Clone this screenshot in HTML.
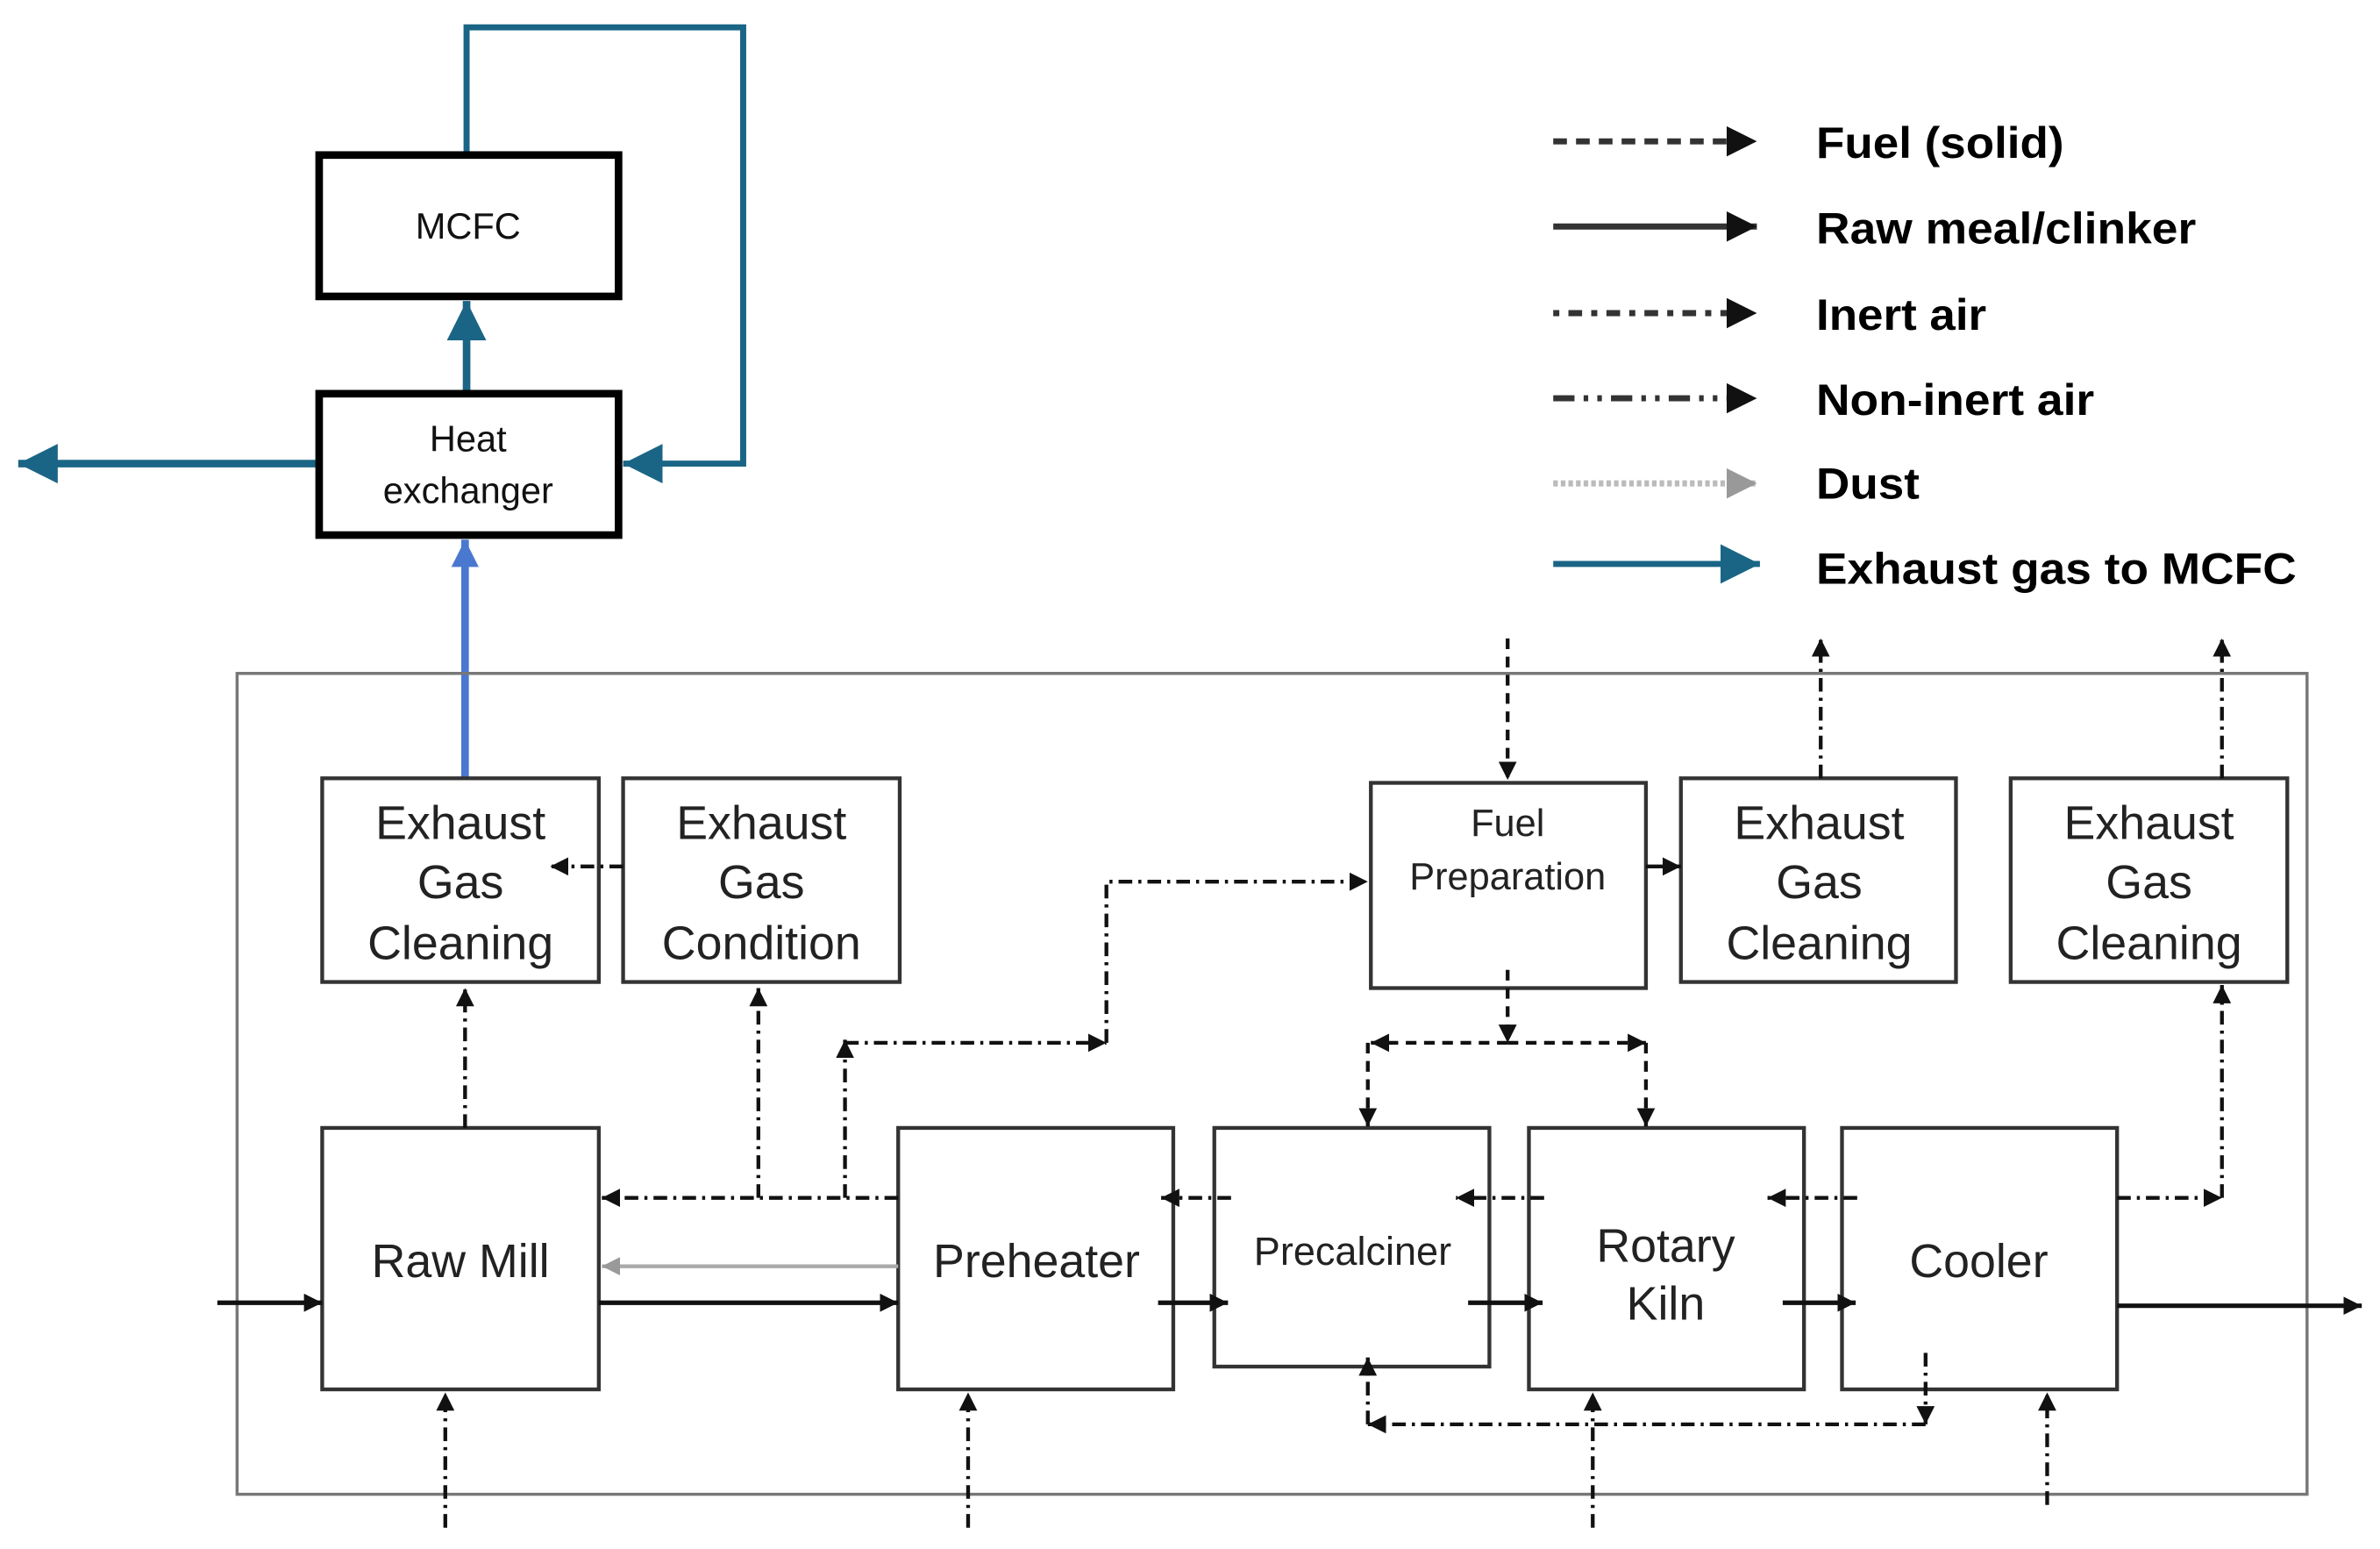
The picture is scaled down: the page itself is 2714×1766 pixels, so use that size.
<!DOCTYPE html>
<html><head><meta charset="utf-8"><style>
html,body{margin:0;padding:0;background:#fff}
svg{display:block}
text{font-family:"Liberation Sans Narrow","Liberation Sans",Arial,sans-serif}
</style></head><body>
<svg width="2714" height="1766" viewBox="0 0 1566 1019" preserveAspectRatio="none" xmlns="http://www.w3.org/2000/svg">
<defs>
<marker id="a" markerUnits="userSpaceOnUse" markerWidth="16" markerHeight="16" refX="12" refY="6" orient="auto"><path d="M0,0 L12,6 L0,12 z" fill="#111"/></marker>
<marker id="al" markerUnits="userSpaceOnUse" markerWidth="24" markerHeight="24" refX="20" refY="10" orient="auto"><path d="M0,0 L20,10 L0,20 z" fill="#111"/></marker>
<marker id="g" markerUnits="userSpaceOnUse" markerWidth="16" markerHeight="16" refX="12" refY="6" orient="auto"><path d="M0,0 L12,6 L0,12 z" fill="#999"/></marker>
<marker id="gl" markerUnits="userSpaceOnUse" markerWidth="24" markerHeight="24" refX="20" refY="10" orient="auto"><path d="M0,0 L20,10 L0,20 z" fill="#999"/></marker>
<marker id="t" markerUnits="userSpaceOnUse" markerWidth="30" markerHeight="30" refX="26" refY="13" orient="auto"><path d="M0,0 L26,13 L0,26 z" fill="#1a6585"/></marker>
<marker id="b" markerUnits="userSpaceOnUse" markerWidth="24" markerHeight="24" refX="18" refY="9" orient="auto"><path d="M0,0 L18,9 L0,18 z" fill="#4a78d0"/></marker>
</defs>

<g fill="none" stroke="#1a6585" stroke-width="4">
<polyline points="307,102 307,18 489,18 489,305 410,305" marker-end="url(#t)"/>
<line x1="307" y1="259" x2="307" y2="198" marker-end="url(#t)" stroke-width="5"/>
<line x1="210" y1="305" x2="12" y2="305" marker-end="url(#t)" stroke-width="5"/>
</g>
<line x1="306" y1="512" x2="306" y2="355" stroke="#4a78d0" stroke-width="5" marker-end="url(#b)"/>
<rect x="210" y="102" width="197" height="93" fill="none" stroke="#000" stroke-width="5"/>
<rect x="210" y="259" width="197" height="93" fill="none" stroke="#000" stroke-width="5"/>
<g font-size="24" text-anchor="middle" fill="#111">
<text x="308" y="157">MCFC</text>
<text x="308" y="297">Heat</text>
<text x="308" y="331">exchanger</text>
</g>

<g stroke="#333" stroke-width="4" fill="none">
<line x1="1022" y1="93" x2="1156" y2="93" stroke-dasharray="9,6" marker-end="url(#al)"/>
<line x1="1022" y1="149" x2="1156" y2="149" marker-end="url(#al)"/>
<line x1="1022" y1="206" x2="1156" y2="206" stroke-dasharray="4,6,9,6" marker-end="url(#al)"/>
<line x1="1022" y1="262" x2="1156" y2="262" stroke-dasharray="14,6,3,6,3,6" marker-end="url(#al)"/>
<line x1="1022" y1="318" x2="1156" y2="318" stroke="#bbb" stroke-dasharray="3,2" marker-end="url(#gl)"/>
<line x1="1022" y1="371" x2="1158" y2="371" stroke="#1a6585" marker-end="url(#t)"/>
</g>
<g font-size="29" font-weight="bold" fill="#000">
<text x="1195" y="104" textLength="163" lengthAdjust="spacingAndGlyphs">Fuel (solid)</text>
<text x="1195" y="160" textLength="250" lengthAdjust="spacingAndGlyphs">Raw meal/clinker</text>
<text x="1195" y="217" textLength="112" lengthAdjust="spacingAndGlyphs">Inert air</text>
<text x="1195" y="273" textLength="183" lengthAdjust="spacingAndGlyphs">Non-inert air</text>
<text x="1195" y="328" textLength="68" lengthAdjust="spacingAndGlyphs">Dust</text>
<text x="1195" y="384" textLength="316" lengthAdjust="spacingAndGlyphs">Exhaust gas to MCFC</text>
</g>

<rect x="156" y="443" width="1362" height="540" fill="none" stroke="#777" stroke-width="2"/>

<g fill="#fff" stroke="#333" stroke-width="2.5">
<rect x="212" y="512" width="182" height="134"/>
<rect x="410" y="512" width="182" height="134"/>
<rect x="902" y="515" width="181" height="135"/>
<rect x="1106" y="512" width="181" height="134"/>
<rect x="1323" y="512" width="182" height="134"/>
<rect x="212" y="742" width="182" height="172"/>
<rect x="591" y="742" width="181" height="172"/>
<rect x="799" y="742" width="181" height="157"/>
<rect x="1006" y="742" width="181" height="172"/>
<rect x="1212" y="742" width="181" height="172"/>
</g>
<g font-size="31" text-anchor="middle" fill="#222" font-family="Liberation Sans,Arial,sans-serif">
<text x="303" y="552">Exhaust</text><text x="303" y="591">Gas</text><text x="303" y="631">Cleaning</text>
<text x="501" y="552">Exhaust</text><text x="501" y="591">Gas</text><text x="501" y="631">Condition</text>
<text x="1197" y="552">Exhaust</text><text x="1197" y="591">Gas</text><text x="1197" y="631">Cleaning</text>
<text x="1414" y="552">Exhaust</text><text x="1414" y="591">Gas</text><text x="1414" y="631">Cleaning</text>
<text x="303" y="840">Raw Mill</text>
<text x="682" y="840">Preheater</text>
<text x="1096" y="830">Rotary</text><text x="1096" y="868">Kiln</text>
<text x="1302" y="840">Cooler</text>
<text x="992" y="550" font-size="25">Fuel</text>
<text x="992" y="585" font-size="25">Preparation</text>
<text x="890" y="832" font-size="26">Precalciner</text>
</g>

<g stroke="#111" stroke-width="3" fill="none" marker-end="url(#a)">
<line x1="143" y1="857" x2="212" y2="857"/>
<line x1="394" y1="857" x2="591" y2="857"/>
<line x1="762" y1="857" x2="808" y2="857"/>
<line x1="966" y1="857" x2="1015" y2="857"/>
<line x1="1173" y1="857" x2="1221" y2="857"/>
<line x1="1393" y1="859" x2="1554" y2="859"/>
</g>
<line x1="591" y1="833" x2="396" y2="833" stroke="#aaa" stroke-width="2.5" marker-end="url(#g)"/>

<g stroke="#111" stroke-width="2.5" fill="none" stroke-dasharray="9,4,2,4" marker-end="url(#a)">
<line x1="591" y1="788" x2="396" y2="788"/>
<line x1="499" y1="788" x2="499" y2="650"/>
<line x1="556" y1="788" x2="556" y2="684"/>
<polyline points="556,686 728,686"/>
<polyline points="728,686 728,580 900,580"/>
<line x1="306" y1="742" x2="306" y2="650"/>
<line x1="410" y1="570" x2="362" y2="570"/>
<line x1="810" y1="788" x2="764" y2="788"/>
<line x1="1016" y1="788" x2="958" y2="788"/>
<line x1="1222" y1="788" x2="1163" y2="788"/>
<polyline points="1393,788 1462,788"/>
<line x1="1462" y1="788" x2="1462" y2="648"/>
<line x1="1462" y1="512" x2="1462" y2="420"/>
<line x1="1198" y1="512" x2="1198" y2="420"/>
<line x1="900" y1="937" x2="900" y2="893"/>
<line x1="1267" y1="937" x2="900" y2="937"/>
<line x1="1267" y1="890" x2="1267" y2="937"/>
<line x1="293" y1="1005" x2="293" y2="916"/>
<line x1="637" y1="1005" x2="637" y2="916"/>
<line x1="1048" y1="1005" x2="1048" y2="916"/>
<line x1="1347" y1="990" x2="1347" y2="916"/>
</g>

<g stroke="#111" stroke-width="2.5" fill="none" stroke-dasharray="7,5" marker-end="url(#a)">
<line x1="992" y1="420" x2="992" y2="513"/>
<line x1="1083" y1="570" x2="1106" y2="570" stroke-dasharray="none"/>
<line x1="992" y1="638" x2="992" y2="686"/>
<line x1="992" y1="686" x2="902" y2="686"/>
<line x1="992" y1="686" x2="1083" y2="686"/>
<line x1="900" y1="686" x2="900" y2="741"/>
<line x1="1083" y1="686" x2="1083" y2="741"/>
</g>
</svg>
</body></html>
